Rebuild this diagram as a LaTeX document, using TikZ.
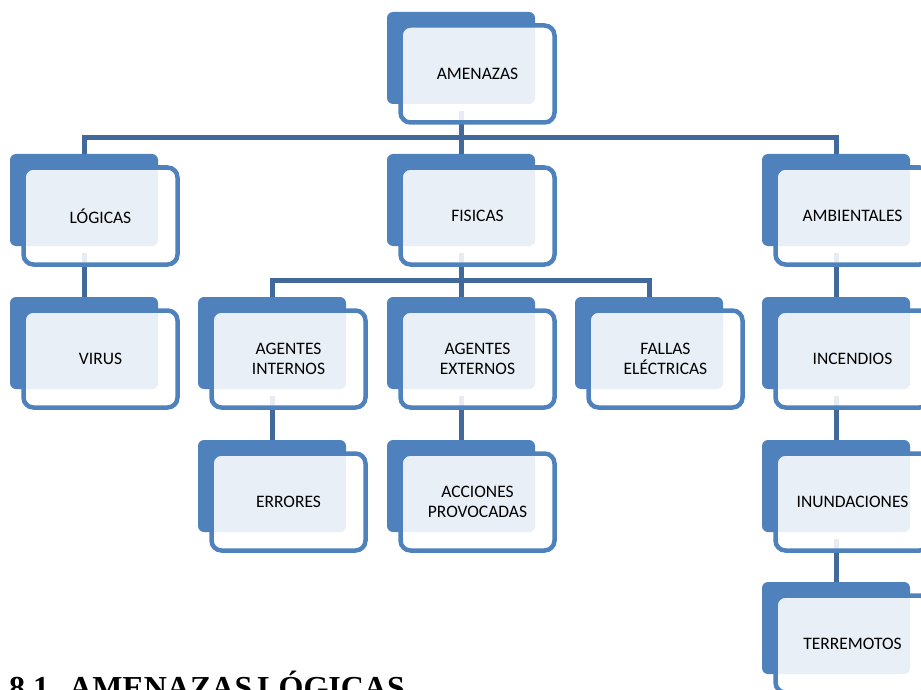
\documentclass[tikz,border=0pt]{standalone}
\usepackage{fontspec}
\setmainfont{Carlito}
\newfontfamily\headfont{Liberation Serif}
\definecolor{blockblue}{HTML}{4F81BD}
\definecolor{linkblue}{HTML}{41699C}
\pgfdeclarelayer{links}
\pgfsetlayers{links,main}

\tikzset{
  backbox/.style={fill=blockblue, draw=none, rounded corners=6pt,
    minimum width=148pt, minimum height=92pt, inner sep=0pt},
  frontbox/.style={draw=blockblue, line width=4.5pt, fill=white,
    fill opacity=0.875, text opacity=1, rounded corners=10pt,
    minimum width=154pt, minimum height=97pt, inner sep=0pt,
    align=center, text=black, font=\fontsize{17.5}{19.7}\selectfont},
  link/.style={draw=linkblue, line width=5pt},
}

% block: name, left x, top y, label
\newcommand\block[4]{%
  \node[backbox] (#1) at ({#2+74},{#3+46}) {};
  \node[frontbox] (#1-f) at ({#2+90.5},{#3+62}) {#4};
}

\begin{document}
\begin{tikzpicture}[x=1pt,y=-1pt]
  \useasboundingbox (0,0) rectangle (921,690);
  \clip (0,0) rectangle (921,690);

  \coordinate (bar1) at (0,137.5);
  \coordinate (bar2) at (0,280);

  \block{amen}{387}{12}{AMENAZAS}
  \block{logi}{10}{154}{LÓGICAS}
  \block{fisi}{387}{154}{FISICAS}
  \block{ambi}{762}{154}{AMBIENTALES}
  \block{viru}{10}{297}{VIRUS}
  \block{agin}{198}{297}{AGENTES\\INTERNOS}
  \block{agex}{387}{297}{AGENTES\\EXTERNOS}
  \block{fall}{575}{297}{FALLAS\\ELÉCTRICAS}
  \block{ince}{762}{297}{INCENDIOS}
  \block{erro}{198}{440}{ERRORES}
  \block{acci}{387}{440}{ACCIONES\\PROVOCADAS}
  \block{inun}{762}{440}{INUNDACIONES}
  \block{terr}{762}{582}{TERREMOTOS}

  \begin{pgfonlayer}{links}
    \draw[link] ([yshift=-7pt]amen.south) -- (fisi.north);
    \draw[link] (logi.north) -- (logi.north |- bar1) -- (ambi.north |- bar1) -- (ambi.north);
    \draw[link] ([yshift=-7pt]logi.south) -- (viru.north);
    \draw[link] ([yshift=-7pt]fisi.south) -- (agex.north);
    \draw[link] (agin.north) -- (agin.north |- bar2) -- (fall.north |- bar2) -- (fall.north);
    \draw[link] ([yshift=-7pt]agin.south) -- (erro.north);
    \draw[link] ([yshift=-7pt]agex.south) -- (acci.north);
    \draw[link] ([yshift=-7pt]ambi.south) -- (ince.north);
    \draw[link] ([yshift=-7pt]ince.south) -- (inun.north);
    \draw[link] ([yshift=-7pt]inun.south) -- (terr.north);
  \end{pgfonlayer}

  \node[anchor=base west, inner sep=0pt, text=black,
    font=\headfont\bfseries\fontsize{32}{38}\selectfont]
    (head) at (9,698) {8.1.\hspace{12pt}AMENAZAS\hspace{5pt}LÓGICAS};
\end{tikzpicture}
\end{document}
